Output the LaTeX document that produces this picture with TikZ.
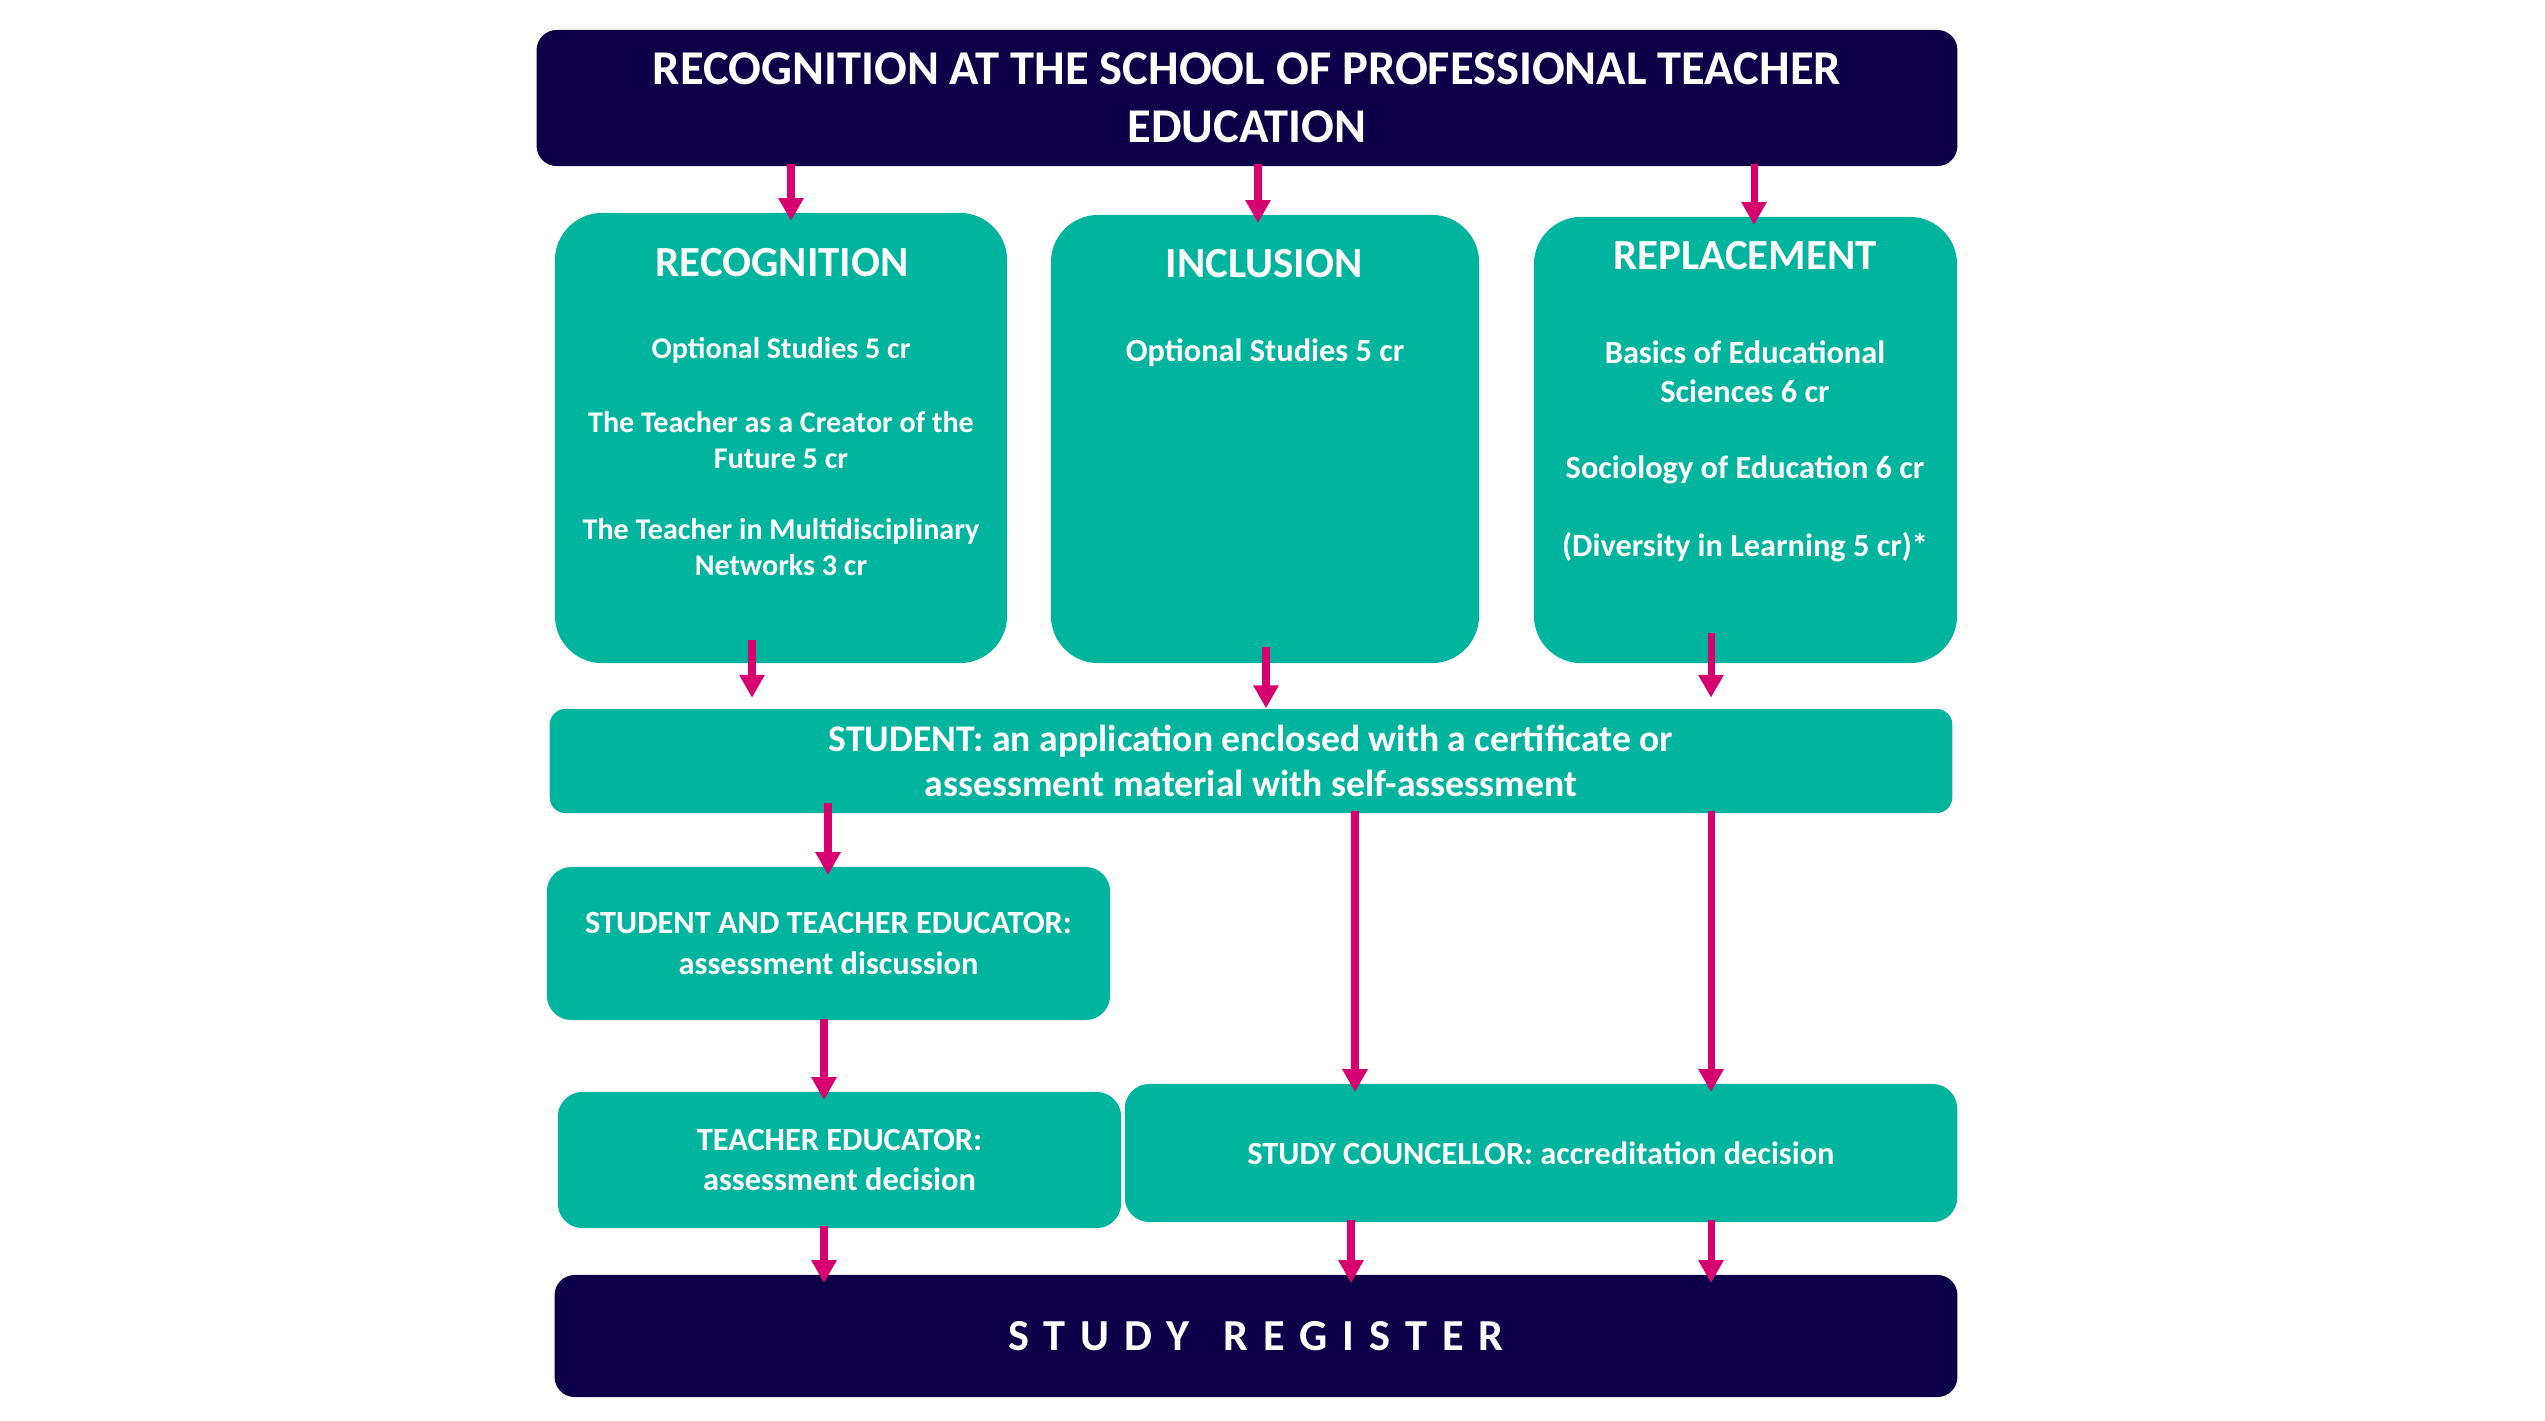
\documentclass[tikz,border=0pt]{standalone}
\usepackage{fontspec}
\setmainfont{Carlito}
\usetikzlibrary{arrows.meta}
\definecolor{navy}{RGB}{14,0,72}
\definecolor{teal}{RGB}{0,180,158}
\definecolor{magenta}{RGB}{214,0,112}
\tikzset{
  navybox/.style={fill=navy, draw=none, text=white, align=center, inner sep=0pt, font=\bfseries},
  tealbox/.style={fill=teal, draw=none, text=white, align=center, inner sep=0pt, font=\bfseries},
  label/.style={text=white, align=center, inner sep=0pt, font=\bfseries},
  arr/.style={draw=magenta, line width=2pt, -{Triangle[length=6.5pt,width=6.8pt]}, shorten >=-2.5pt},
}
\begin{document}
\begin{tikzpicture}[x=0.01cm, y=-0.01cm]
\useasboundingbox (0,0) rectangle (2545,1420);
% top
\node[navybox, minimum width=14.20cm, minimum height=1.36cm, rounded corners=5.7pt,
  font=\bfseries\fontsize{13.8}{16.4}\selectfont] (top) at (1247,98)
  {RECOGNITION AT THE SCHOOL OF PROFESSIONAL TEACHER\\EDUCATION};
% tall boxes
\node[tealbox, minimum width=4.52cm, minimum height=4.50cm, rounded corners=13.5pt] (rec) at (781,438) {};
\node[tealbox, minimum width=4.28cm, minimum height=4.48cm, rounded corners=13.5pt] (inc) at (1265,439) {};
\node[tealbox, minimum width=4.23cm, minimum height=4.46cm, rounded corners=13.5pt] (rep) at (1745.5,440) {};
% headers
\node[label, font=\bfseries\fontsize{12.2}{14}\selectfont] (rech) at (782,263) {RECOGNITION};
\node[label, font=\bfseries\fontsize{12.2}{14}\selectfont] (inch) at (1264,264) {INCLUSION};
\node[label, font=\bfseries\fontsize{12.2}{14}\selectfont] (reph) at (1745,256) {REPLACEMENT};
% items
\node[label, font=\bfseries\fontsize{8.55}{10.3}\selectfont] (reca) at (781,350) {Optional Studies 5 cr};
\node[label, font=\bfseries\fontsize{8.55}{10.3}\selectfont] (recb) at (781,440) {The Teacher as a Creator of the\\Future 5 cr};
\node[label, font=\bfseries\fontsize{8.55}{10.3}\selectfont] (recc) at (781,547) {The Teacher in Multidisciplinary\\Networks 3 cr};
\node[label, font=\bfseries\fontsize{9.2}{11}\selectfont] (inca) at (1265,353) {Optional Studies 5 cr};
\node[label, font=\bfseries\fontsize{9.2}{11}\selectfont] (repa) at (1745,372) {Basics of Educational\\Sciences 6 cr};
\node[label, font=\bfseries\fontsize{9.2}{11}\selectfont] (repb) at (1745,470) {Sociology of Education 6 cr};
\node[label, font=\bfseries\fontsize{9.2}{11}\selectfont] (repc) at (1745,547) {(Diversity in Learning 5 cr)*};
% student
\node[tealbox, minimum width=14.02cm, minimum height=1.04cm, rounded corners=4.5pt,
  font=\bfseries\fontsize{10.7}{13}\selectfont] (stu) at (1251,761)
  {STUDENT: an application enclosed with a certificate or\\assessment material with self-assessment};
\node[tealbox, minimum width=5.63cm, minimum height=1.53cm, rounded corners=7pt,
  font=\bfseries\fontsize{9.2}{11.4}\selectfont] (ste) at (828.5,943.5)
  {STUDENT AND TEACHER EDUCATOR:\\assessment discussion};
\node[tealbox, minimum width=5.63cm, minimum height=1.36cm, rounded corners=7pt,
  font=\bfseries\fontsize{9.2}{11.4}\selectfont] (te) at (839.5,1160)
  {TEACHER EDUCATOR:\\assessment decision};
\node[tealbox, minimum width=8.32cm, minimum height=1.38cm, rounded corners=7pt,
  font=\bfseries\fontsize{9.2}{11.4}\selectfont] (sc) at (1541,1153)
  {STUDY COUNCELLOR: accreditation decision};
\node[navybox, minimum width=14.02cm, minimum height=1.22cm, rounded corners=5.7pt,
  font=\bfseries\fontsize{12.6}{15}\selectfont] (reg) at (1256,1336)
  {\addfontfeature{LetterSpace=34}STUDY\hspace{2.5pt} REGISTER};
% arrow start points
\coordinate (t1) at (791,164);
\coordinate (t2) at (1258,164);
\coordinate (t3) at (1754,164);
\coordinate (b1) at (752,640);
\coordinate (b2) at (1266,647);
\coordinate (b3) at (1711,633);
\coordinate (s1) at (828,803);
\coordinate (s2) at (1355,811);
\coordinate (s3) at (1711,811);
\coordinate (d1) at (824,1019);
\coordinate (e1) at (824,1226);
\coordinate (c1) at (1351,1220);
\coordinate (c2) at (1711,1220);
% arrows
\draw[arr] (t1) -- (t1 |- rec.north);
\draw[arr] (t2) -- (t2 |- inc.north);
\draw[arr] (t3) -- (t3 |- rep.north);
\draw[arr, shorten >=3pt] (b1) -- (b1 |- stu.north);
\draw[arr, shorten >=0pt] (b2) -- (b2 |- stu.north);
\draw[arr, shorten >=3pt] (b3) -- (b3 |- stu.north);
\draw[arr] (s1) -- (s1 |- ste.north);
\draw[arr] (s2) -- (s2 |- sc.north);
\draw[arr] (s3) -- (s3 |- sc.north);
\draw[arr] (d1) -- (d1 |- te.north);
\draw[arr] (e1) -- (e1 |- reg.north);
\draw[arr] (c1) -- (c1 |- reg.north);
\draw[arr] (c2) -- (c2 |- reg.north);
\end{tikzpicture}
\end{document}
